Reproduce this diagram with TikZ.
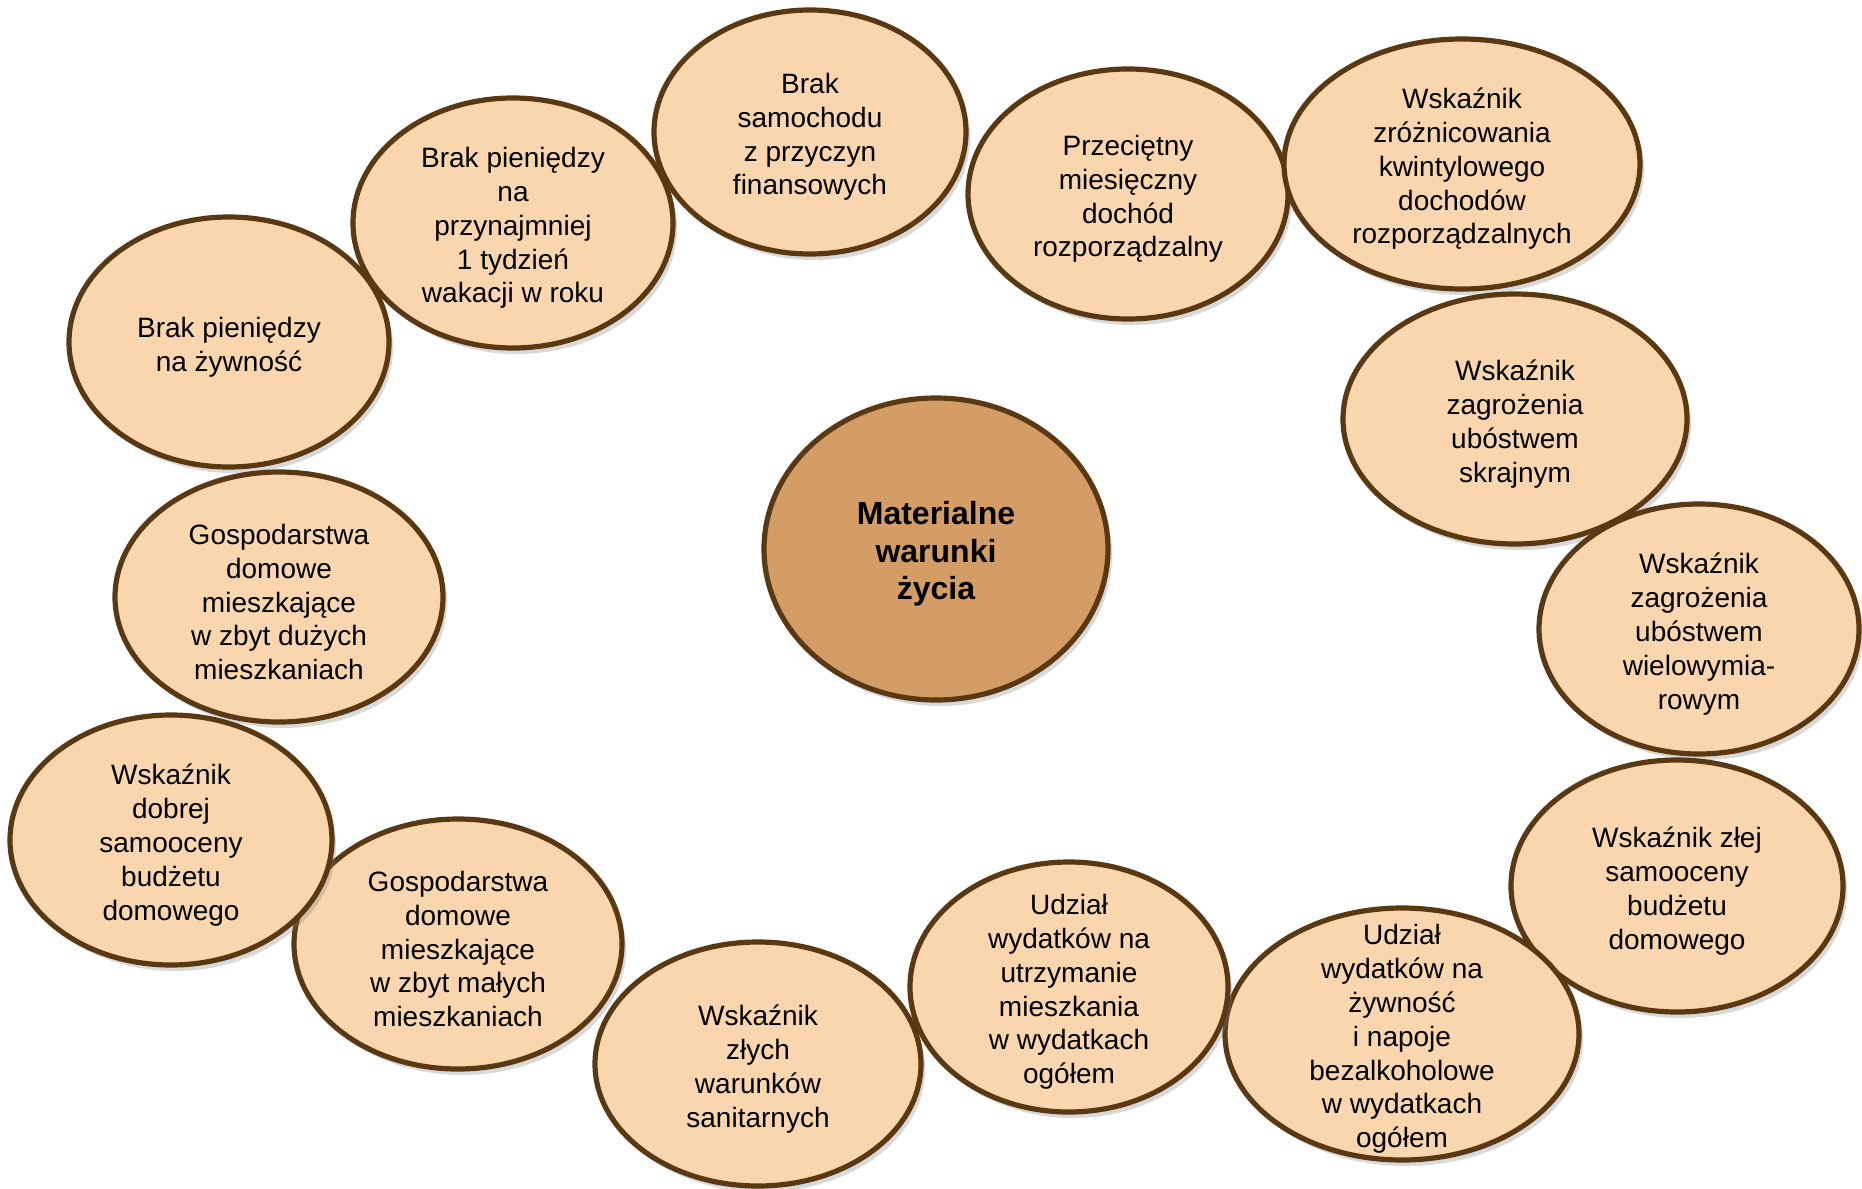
\documentclass[tikz,border=0pt]{standalone}
\usepackage{fontspec}
\setmainfont{Liberation Sans}
\usetikzlibrary{shapes.geometric,shadows}

\definecolor{peach}{HTML}{F9D6AE}
\definecolor{caramel}{HTML}{D49D66}
\definecolor{rim}{HTML}{5A3811}

\tikzset{
  bubble/.style={ellipse, draw=rim, line width=2.6pt, fill=peach, inner sep=0pt,
    drop shadow={opacity=0.3, shadow xshift=2pt, shadow yshift=-3pt}},
  bubbletext/.style={align=center, inner sep=0pt, yshift=-2.5pt,
    font=\fontsize{14pt}{16.9pt}\selectfont},
  hubtext/.style={align=center, inner sep=0pt, yshift=-2.5pt,
    font=\fontsize{16pt}{18.8pt}\selectfont\bfseries}
}

\newcommand{\drawbubble}[6]{%
\node[bubble, minimum width=#4*0.5pt, minimum height=#5*0.5pt,
  label={[bubbletext]center:{#6}}] (#1) at (#2,#3) {};
}

\begin{document}
\begin{tikzpicture}[x=0.5pt,y=-0.5pt]

\useasboundingbox (0,0) rectangle (1862,1188);

% outer ring
\drawbubble{food}{229}{342}{320}{250}{Brak pieniędzy\\na żywność}
\drawbubble{holiday}{513}{223}{320}{250}{Brak pieniędzy\\na\\przynajmniej\\1 tydzień\\wakacji w roku}
\drawbubble{car}{810}{132}{312}{244}{Brak\\samochodu\\z przyczyn\\finansowych}
\drawbubble{income}{1128}{194}{320}{250}{Przeciętny\\miesięczny\\dochód\\rozporządzalny}
\drawbubble{quintile}{1462}{164}{356}{250}{Wskaźnik\\zróżnicowania\\kwintylowego\\dochodów\\rozporządzalnych}
\drawbubble{extreme}{1515}{419}{344}{250}{Wskaźnik\\zagrożenia\\ubóstwem\\skrajnym}
\drawbubble{multidim}{1699}{629}{320}{250}{Wskaźnik\\zagrożenia\\ubóstwem\\wielowymia-\\rowym}
\drawbubble{badbudget}{1677}{886}{332}{252}{Wskaźnik złej\\samooceny\\budżetu\\domowego}
\drawbubble{foodshare}{1402}{1034}{354}{252}{Udział\\wydatków na\\żywność\\i napoje\\bezalkoholowe\\w wydatkach\\ogółem}
\drawbubble{flatshare}{1069}{987}{318}{250}{Udział\\wydatków na\\utrzymanie\\mieszkania\\w wydatkach\\ogółem}
\drawbubble{sanitary}{758}{1064}{326}{244}{Wskaźnik\\złych\\warunków\\sanitarnych}
\drawbubble{small}{458}{944}{328}{250}{Gospodarstwa\\domowe\\mieszkające\\w zbyt małych\\mieszkaniach}
\drawbubble{goodbudget}{171}{840}{322}{250}{Wskaźnik\\dobrej\\samooceny\\budżetu\\domowego}
\drawbubble{large}{279}{597}{328}{250}{Gospodarstwa\\domowe\\mieszkające\\w zbyt dużych\\mieszkaniach}

% centre
\node[bubble, fill=caramel, minimum width=172pt, minimum height=151pt,
  label={[hubtext]center:{Materialne\\warunki\\życia}}] (hub) at (936,549) {};

\end{tikzpicture}
\end{document}
